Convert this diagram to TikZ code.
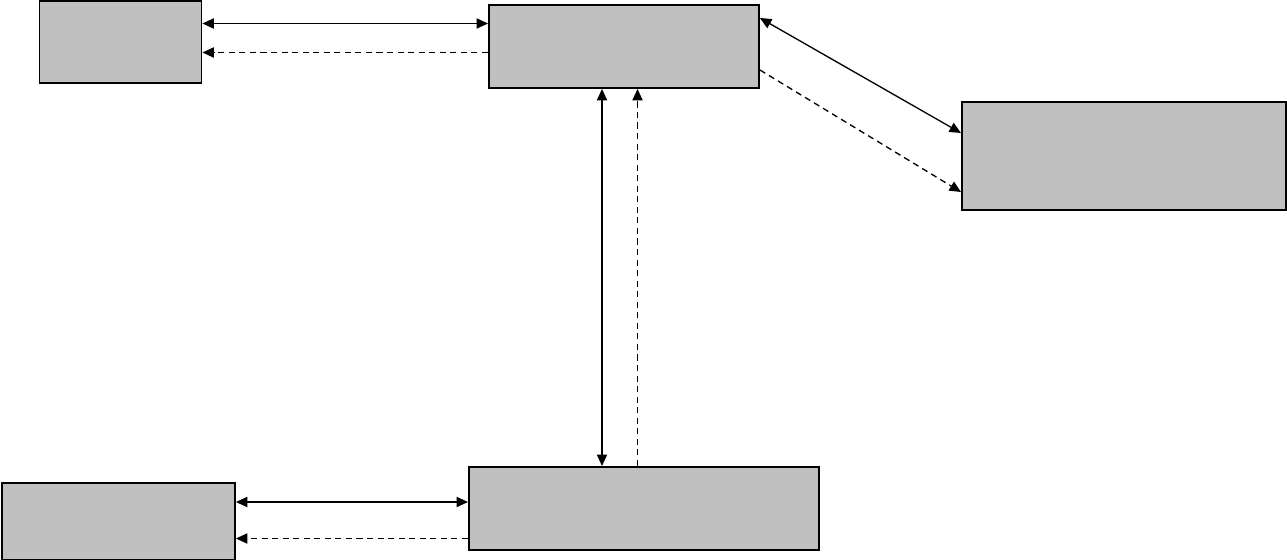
\documentclass[tikz,border=0pt]{standalone}
\usetikzlibrary{arrows.meta}
\definecolor{boxgray}{HTML}{C0C0C0}
\tikzset{
 blk/.style={draw,fill=boxgray,line width=1.1pt,inner sep=0pt,anchor=north west},
 lnk/.style={line width=0.75pt,{Triangle[length=6.5pt,width=5.8pt]}-{Triangle[length=6.5pt,width=5.8pt]}},
 back/.style={line width=0.75pt,dash pattern=on 3.5pt off 2.5pt,-{Triangle[length=6.5pt,width=5.8pt]}}
}
\begin{document}
\begin{tikzpicture}
 \useasboundingbox (0,0) rectangle (25.74,-11.2);
 \node[blk,minimum width=3.24cm,minimum height=1.63cm] (src) at (0.77,-0.01) {};
 \node[blk,minimum width=5.4cm,minimum height=1.65cm] (hub) at (9.76,-0.09) {};
 \node[blk,minimum width=6.48cm,minimum height=2.16cm] (far) at (19.22,-2.02) {};
 \node[blk,minimum width=7cm,minimum height=1.66cm] (low) at (9.36,-9.32) {};
 \node[blk,minimum width=4.66cm,minimum height=1.54cm] (dst) at (0.02,-9.64) {};
 \draw[lnk] (src.east |- 0,-0.47) -- (hub.west |- 0,-0.47);
 \draw[back] (hub.west |- 0,-1.05) -- (src.east |- 0,-1.05);
 \draw[lnk] (hub.east |- 0,-0.36) -- (far.west |- 0,-2.66);
 \draw[back] (hub.east |- 0,-1.40) -- (far.west |- 0,-3.84);
 \draw[lnk] (hub.south -| 12.04,0) -- (low.north -| 12.04,0);
 \draw[back] (low.north -| 12.75,0) -- (hub.south -| 12.75,0);
 \draw[lnk] (dst.east |- 0,-10.04) -- (low.west |- 0,-10.04);
 \draw[back] (low.west |- 0,-10.77) -- (dst.east |- 0,-10.77);
\end{tikzpicture}
\end{document}
